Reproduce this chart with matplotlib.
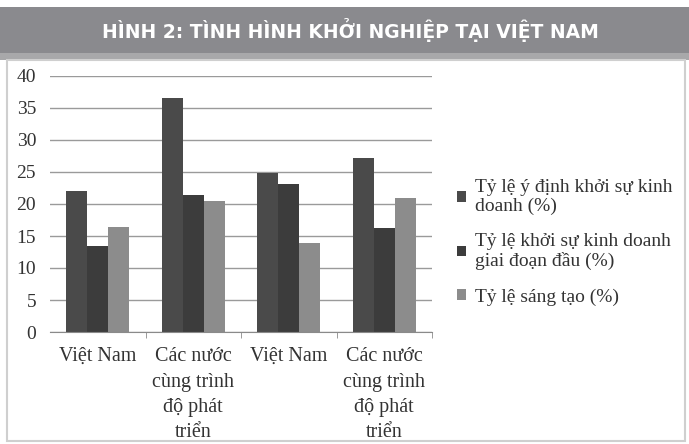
import numpy as np
import matplotlib.pyplot as plt
from matplotlib.patches import Rectangle

title = "HÌNH 2: TÌNH HÌNH KHỞI NGHIỆP TẠI VIỆT NAM"
categories = ["Việt Nam", "Các nước\ncùng trình\nđộ phát\ntriển",
              "Việt Nam", "Các nước\ncùng trình\nđộ phát\ntriển"]
series_names = ["Tỷ lệ ý định khởi sự kinh\ndoanh (%)",
                "Tỷ lệ khởi sự kinh doanh\ngiai đoạn đầu (%)",
                "Tỷ lệ sáng tạo (%)"]
y_dinh = [22.1, 36.5, 24.8, 27.2]
khoi_su = [13.5, 21.4, 23.2, 16.2]
sang_tao = [16.4, 20.5, 13.9, 21.0]
colors = ["#4a4a4a", "#3c3c3c", "#8c8c8c"]

serif = ["Liberation Serif", "DejaVu Serif"]

fig = plt.figure(figsize=(6.89, 4.44), dpi=100)

# header band and chart frame
fig.patches.append(Rectangle((0.0, 1 - 53 / 444), 1, 46 / 444, transform=fig.transFigure,
                             facecolor="#8a8a8e", edgecolor="none", zorder=0))
fig.patches.append(Rectangle((0.0, 1 - 60 / 444), 1, 7 / 444, transform=fig.transFigure,
                             facecolor="#a8a8aa", edgecolor="none", zorder=0))
fig.patches.append(Rectangle((7 / 689, 3 / 444), 678 / 689, 381 / 444, transform=fig.transFigure,
                             facecolor="none", edgecolor="#cfcfcf", linewidth=1.5, zorder=0))
fig.text(0.508, 1 - 30 / 444, title, color="white", fontsize=13.5, fontweight="bold",
         ha="center", va="center", family=["Liberation Sans Narrow", "DejaVu Sans"])

ax = fig.add_axes([50 / 689, 112 / 444, 382 / 689, 256 / 444])
x = np.arange(len(categories))
w = 0.22
for i, (vals, name) in enumerate(zip([y_dinh, khoi_su, sang_tao], series_names)):
    ax.bar(x + (i - 1) * w, vals, width=w, color=colors[i], label=name, zorder=2)

ax.set_ylim(0, 40)
ax.set_xlim(-0.5, 3.5)
ax.set_yticks(range(0, 41, 5))
ax.yaxis.grid(True, color="#9a9a9a", linewidth=1)
ax.set_axisbelow(True)
for s in ["top", "right", "left"]:
    ax.spines[s].set_visible(False)
ax.spines["bottom"].set_color("#8a8a8a")
ax.tick_params(axis="y", length=0, pad=10)
ax.set_xticks([0.5, 1.5, 2.5, 3.5], minor=True)
ax.tick_params(axis="x", which="minor", length=4, color="#8a8a8a")
ax.set_xticks(x)
ax.set_xticklabels(categories, linespacing=1.45)
ax.tick_params(axis="x", which="major", length=0, pad=11)
for lab in ax.get_xticklabels():
    lab.set_family(serif)
    lab.set_fontsize(14.5)
    lab.set_color("#333333")
for lab in ax.get_yticklabels():
    lab.set_family(serif)
    lab.set_fontsize(14)
    lab.set_color("#333333")

leg = ax.legend(loc="center left", bbox_to_anchor=(1.02, 0.35), frameon=False,
                prop={"family": serif, "size": 14}, handlelength=0.45, handleheight=0.45,
                handletextpad=0.45, labelspacing=0.95)
for t in leg.get_texts():
    t.set_color("#333333")
    t.set_linespacing(1.1)

fig.savefig("out.png", dpi=100)
